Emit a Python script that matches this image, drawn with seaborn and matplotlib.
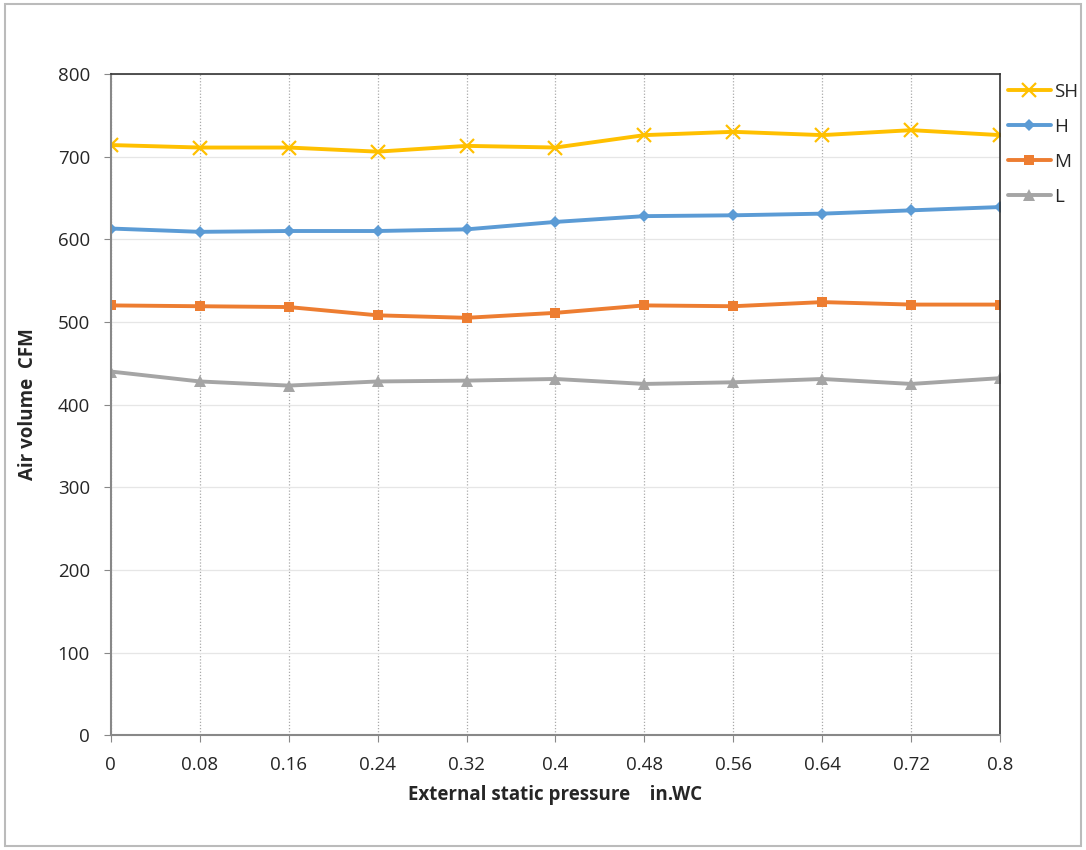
import matplotlib
matplotlib.use("Agg")
import matplotlib.pyplot as plt
import matplotlib.patches as mpatches
import seaborn as sns
import pandas as pd

pressure = [0, 0.08, 0.16, 0.24, 0.32, 0.4, 0.48, 0.56, 0.64, 0.72, 0.8]
pressure_labels = ["0", "0.08", "0.16", "0.24", "0.32", "0.4", "0.48", "0.56", "0.64", "0.72", "0.8"]
sh_cfm = [714, 711, 711, 706, 713, 711, 726, 730, 726, 732, 726]
h_cfm = [613, 609, 610, 610, 612, 621, 628, 629, 631, 635, 639]
m_cfm = [520, 519, 518, 508, 505, 511, 520, 519, 524, 521, 521]
l_cfm = [440, 428, 423, 428, 429, 431, 425, 427, 431, 425, 432]
series_names = ["SH", "H", "M", "L"]

sns.set_style("white")
plt.rcParams['font.family'] = ['Open Sans', 'DejaVu Sans']

fig = plt.figure(figsize=(10.86, 8.5), dpi=100)
ax = fig.add_axes([0.102, 0.135, 0.819, 0.778])

styles = {
    "SH": dict(color="#FFC000", marker="x", ms=10, mew=1.6),
    "H": dict(color="#5B9BD5", marker="D", ms=6.5),
    "M": dict(color="#ED7D31", marker="s", ms=7.5),
    "L": dict(color="#A5A5A5", marker="^", ms=8.5),
}
for name, vals in zip(series_names, [sh_cfm, h_cfm, m_cfm, l_cfm]):
    df = pd.DataFrame({"x": pressure, "y": vals})
    st = styles[name]
    sns.lineplot(data=df, x="x", y="y", ax=ax, color=st["color"], linewidth=2.8,
                 marker=st["marker"], markersize=st["ms"], markeredgewidth=st.get("mew", 0),
                 markeredgecolor=st["color"], label=name)

ax.set_xlim(0, 0.8)
ax.set_ylim(0, 800)
ax.set_xticks(pressure)
ax.set_xticklabels(pressure_labels)
ax.set_yticks(range(0, 801, 100))
ax.tick_params(labelsize=13.5, length=5, color="#888888", direction="out", pad=8)
ax.tick_params(axis="x", bottom=True, pad=10)
ax.tick_params(axis="y", left=True, pad=10)

ax.grid(axis="x", color="#AAAAAA", linestyle=(0, (1, 1.5)), linewidth=0.9)
ax.grid(axis="y", color="#E6E6E6", linestyle="-", linewidth=0.9)
ax.set_axisbelow(True)
for side in ["left", "bottom"]:
    ax.spines[side].set_color("#888888")
    ax.spines[side].set_linewidth(1.5)
for side in ["top", "right"]:
    ax.spines[side].set_color("#333333")
    ax.spines[side].set_linewidth(1.2)

ax.set_xlabel("External static pressure    in.WC", fontsize=13.5, fontweight="bold", labelpad=8)
ax.set_ylabel("Air volume  CFM", fontsize=13.5, fontweight="bold", labelpad=14)

ax.legend(loc="upper left", bbox_to_anchor=(1.002, 0.995), frameon=False, fontsize=13.5,
          handlelength=2.3, handletextpad=0.2, labelspacing=0.9, borderaxespad=0.1,
          borderpad=0.2)

fig.patches.append(mpatches.Rectangle((0.005, 0.005), 0.99, 0.99, transform=fig.transFigure,
                                      fill=False, edgecolor="#BBBBBB", linewidth=1.5))

fig.savefig("out.png", dpi=100)
